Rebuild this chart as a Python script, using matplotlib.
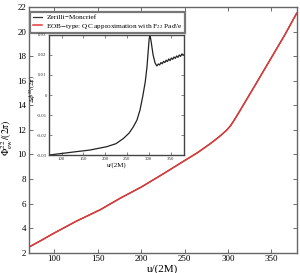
import numpy as np
import matplotlib
matplotlib.use("Agg")
import matplotlib.pyplot as plt

# Fase acumulada del modo 22 (eje principal)
u_fase = [71, 85, 100, 125, 153, 175, 200, 225, 250, 265, 280, 290, 298, 303,
          308, 314, 330, 350, 365, 379]
fase = [2.46, 3.0, 3.6, 4.55, 5.5, 6.4, 7.34, 8.4, 9.5, 10.15, 10.9, 11.45, 11.95, 12.35,
        12.9, 13.6, 15.5, 17.9, 19.7, 21.5]

# Diferencia de fase (inset)
u_dif = [71, 100, 130, 165, 204, 225, 242, 255, 265, 273, 280, 286, 292, 296, 299,
         301, 303, 306, 310, 314.7, 318.6, 322, 325, 328, 331, 334, 337, 340, 343,
         346, 349, 352, 355, 358, 361, 364, 367, 370, 373, 376, 380]
dif = [-0.030, -0.0292, -0.0284, -0.0275, -0.0258, -0.0243, -0.0217, -0.019, -0.0158,
       -0.0125, -0.0075, -0.001, 0.0065, 0.014, 0.0225,
       0.028, 0.030, 0.026, 0.020, 0.0159, 0.0145, 0.0155, 0.0150, 0.0162, 0.0156,
       0.0168, 0.0162, 0.0174, 0.0167, 0.0180, 0.0172, 0.0185, 0.0178, 0.0190, 0.0183,
       0.0195, 0.0188, 0.0200, 0.0193, 0.0205, 0.0200]

plt.rcParams['font.family'] = ['Liberation Serif', 'DejaVu Serif']
plt.rcParams['mathtext.fontset'] = 'stix'

fig = plt.figure(figsize=(3.0, 2.73), dpi=100)
ax = fig.add_axes([0.0967, 0.0744, 0.8923, 0.8996])

ax.plot(u_fase, fase, color='#333333', lw=0.9, label='Zerilli\u2212Moncrief')
ax.plot(u_fase, fase, color='#e53838', lw=1.1,
        label=r'EOB$-$type: QC approximation with F$_{22}$ Pad\'e')
ax.set_xlim(71, 379)
ax.set_ylim(2, 22)
ax.set_xticks([100, 150, 200, 250, 300, 350])
ax.set_yticks(range(2, 23, 2))
ax.tick_params(direction='in', top=True, right=True, labelsize=6.5, length=3,
               width=0.6, pad=2, color='#555555')
for s in ax.spines.values():
    s.set_color('#666666')
    s.set_linewidth(1.0)
ax.set_xlabel('u/(2M)', fontsize=8, labelpad=1)
ax.set_ylabel(r'$\Phi^{22}_{\rm ew}/(2\pi)$', fontsize=7)
ax.yaxis.set_label_coords(-0.052, 0.47)

leg = ax.legend(loc='upper left', bbox_to_anchor=(0.0, 0.985), fontsize=5.2,
                frameon=True, fancybox=False, framealpha=1, edgecolor='#777777',
                handlelength=1.3, handletextpad=0.6, borderpad=0.3,
                labelspacing=0.15, borderaxespad=0.2)
leg.get_frame().set_linewidth(1.6)
leg.set_zorder(10)

# Inset
ins = fig.add_axes([0.163, 0.432, 0.449, 0.440])
ins.plot(u_dif, dif, color='#222222', lw=0.9)
ins.set_xlim(71, 380)
ins.set_ylim(-0.03, 0.03)
ins.set_xticks([100, 150, 200, 250, 300, 350])
ins.set_yticks([-0.03, -0.02, -0.01, 0, 0.01, 0.02, 0.03])
ins.set_yticklabels(['-0.03', '-0.02', '-0.01', '0', '0.01', '0.02', '0.03'])
ins.tick_params(direction='in', top=True, right=True, labelsize=3.5, length=2,
                width=0.5, pad=1.5, color='#555555', labelcolor='#333333')
for s in ins.spines.values():
    s.set_color('#444444')
    s.set_linewidth(1.0)
ins.set_xlabel('u/(2M)', fontsize=5, labelpad=1)
ins.set_ylabel(r'$\Delta\phi^{22}/(2\pi)$', fontsize=4.5)
ins.yaxis.set_label_coords(-0.09, 0.55)

fig.savefig('out.png', dpi=100)
